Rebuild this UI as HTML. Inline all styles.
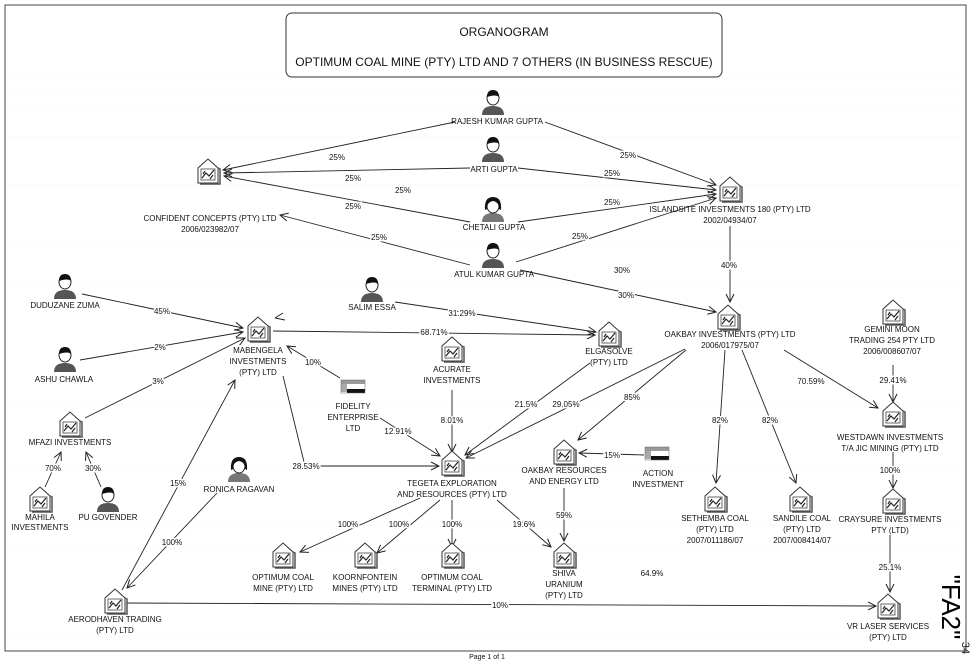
<!DOCTYPE html>
<html><head><meta charset="utf-8"><style>
html,body{margin:0;padding:0;background:#fff;}
svg{display:block;}
text{font-family:"Liberation Sans",sans-serif;font-size:8px;fill:#111;text-anchor:middle;}
.pl{paint-order:stroke;stroke:#fff;stroke-width:3px;}
</style></head><body>
<svg width="974" height="662" viewBox="0 0 974 662" xmlns="http://www.w3.org/2000/svg">
<defs>
<marker id="a" markerWidth="10" markerHeight="10" refX="9" refY="5" orient="auto" markerUnits="userSpaceOnUse">
<path d="M1,1 L9,5 L1,9" fill="none" stroke="#222" stroke-width="1"/></marker>
<g id="h"><path d="M-10,-4 L0,-13 L10,-4 L10,11 L-10,11 Z" fill="#fff" stroke="#333" stroke-width="1"/><path d="M10,-4 L12,-3 L12,12 L-8,12" fill="none" stroke="#555" stroke-width="1.5"/><rect x="-7" y="-3" width="14" height="11" fill="#fff" stroke="#444" stroke-width="0.8"/><path d="M-6,6 L-2,1 L1,4 L6,-2 M-5,2 L-3,-1 M2,7 L5,3" stroke="#222" stroke-width="1.2" fill="none"/></g>
<g id="p"><path d="M-11,12 Q-11,3 0,3 Q11,3 11,12 Z" fill="#555"/><ellipse cx="0" cy="-5" rx="6" ry="7" fill="#fff" stroke="#222"/><path d="M-6,-6 Q-6,-13 0,-13 Q6,-13 6,-6 Q3,-9 -6,-6Z" fill="#111"/></g>
<g id="pf"><path d="M-11,12 Q-11,3 0,3 Q11,3 11,12 Z" fill="#777"/><ellipse cx="0" cy="-4" rx="6" ry="7" fill="#fff" stroke="#222"/><path d="M-8,0 Q-9,-13 0,-13 Q9,-13 8,0 L6,-1 Q6,-8 0,-9 Q-6,-8 -6,-1Z" fill="#111"/></g>
<g id="f"><rect x="-12" y="-8" width="24" height="4" fill="#999"/><rect x="-12" y="-4" width="6" height="8" fill="#aaa"/><rect x="-6" y="-2" width="18" height="2" fill="#fff"/><rect x="-6" y="1" width="18" height="4" fill="#111"/><rect x="-12" y="-8" width="24" height="13" fill="none" stroke="#666" stroke-width="0.5"/></g>
</defs>
<rect x="5" y="5" width="961" height="646" fill="none" stroke="#444" stroke-width="1"/>
<g stroke="#ddd" stroke-dasharray="1,3" stroke-width="0.6">
<line x1="6" y1="77" x2="965" y2="77"/><line x1="6" y1="91" x2="965" y2="91"/><line x1="6" y1="107" x2="965" y2="107"/><line x1="6" y1="137" x2="965" y2="137"/><line x1="6" y1="185" x2="965" y2="185"/><line x1="6" y1="245" x2="965" y2="245"/><line x1="6" y1="283" x2="965" y2="283"/><line x1="6" y1="405" x2="965" y2="405"/><line x1="6" y1="467" x2="965" y2="467"/><line x1="6" y1="525" x2="965" y2="525"/><line x1="6" y1="548" x2="965" y2="548"/><line x1="6" y1="637" x2="965" y2="637"/>
</g>
<rect x="286" y="13" width="436" height="64" rx="6" fill="#fff" stroke="#333"/>
<text x="504" y="36" style="font-size:12px">ORGANOGRAM</text>
<text x="504" y="66" style="font-size:12px">OPTIMUM COAL MINE (PTY) LTD AND 7 OTHERS (IN BUSINESS RESCUE)</text>

<g stroke="#222" stroke-width="0.9" fill="none" marker-end="url(#a)">
<line x1="455" y1="122" x2="223" y2="170"/>
<line x1="545" y1="122" x2="716" y2="185"/>
<line x1="470" y1="168" x2="224" y2="173"/>
<line x1="518" y1="168" x2="716" y2="190"/>
<line x1="470" y1="222" x2="224" y2="176"/>
<line x1="518" y1="222" x2="716" y2="194"/>
<line x1="470" y1="265" x2="280" y2="215"/>
<line x1="516" y1="262" x2="716" y2="198"/>
<line x1="520" y1="270" x2="716" y2="312"/>
<line x1="730" y1="226" x2="730" y2="302"/>
<line x1="82" y1="294" x2="243" y2="328"/>
<line x1="80" y1="360" x2="243" y2="332"/>
<line x1="85" y1="418" x2="245" y2="338"/>
<line x1="273" y1="331" x2="595" y2="335"/>
<line x1="395" y1="302" x2="596" y2="332"/>
<line x1="340" y1="378" x2="287" y2="346"/>
<polyline points="283,376 305,466 439,466"/>
<line x1="380" y1="418" x2="440" y2="456"/>
<line x1="452" y1="390" x2="452" y2="452"/>
<line x1="590" y1="363" x2="465" y2="455"/>
<line x1="685" y1="349" x2="466" y2="458"/>
<line x1="686" y1="350" x2="578" y2="440"/>
<line x1="644" y1="455" x2="579" y2="453"/>
<line x1="725" y1="350" x2="716" y2="483"/>
<line x1="742" y1="350" x2="796" y2="483"/>
<line x1="784" y1="350" x2="878" y2="408"/>
<line x1="893" y1="365" x2="893" y2="402"/>
<line x1="45" y1="487" x2="61" y2="452"/>
<line x1="101" y1="487" x2="86" y2="452"/>
<line x1="893" y1="452" x2="893" y2="488"/>
<line x1="890" y1="535" x2="890" y2="592"/>
<line x1="420" y1="498" x2="300" y2="552"/>
<line x1="440" y1="500" x2="377" y2="553"/>
<line x1="452" y1="500" x2="452" y2="547"/>
<line x1="497" y1="500" x2="551" y2="547"/>
<line x1="564" y1="488" x2="564" y2="541"/>
<line x1="122" y1="590" x2="235" y2="380"/>
<line x1="217" y1="493" x2="127" y2="588"/>
<line x1="127" y1="603" x2="876" y2="606"/>
</g>
<g stroke="#222" stroke-width="0.9" fill="none"><path d="M275,318 L283,313 M275,318 L285,320"/></g>

<g class="pl">
<text x="337" y="160">25%</text><text x="628" y="158">25%</text>
<text x="353" y="181">25%</text><text x="612" y="176">25%</text>
<text x="353" y="209">25%</text><text x="612" y="205">25%</text>
<text x="403" y="193">25%</text>
<text x="379" y="240">25%</text><text x="580" y="239">25%</text>
<text x="626" y="298">30%</text><text x="622" y="273">30%</text>
<text x="729" y="268">40%</text>
<text x="162" y="314">45%</text><text x="160" y="350">2%</text><text x="158" y="384">3%</text>
<text x="434" y="335">68.71%</text><text x="462" y="316">31.29%</text>
<text x="313" y="365">10%</text><text x="306" y="469">28.53%</text>
<text x="398" y="434">12.91%</text><text x="452" y="423">8.01%</text>
<text x="526" y="407">21.5%</text><text x="566" y="407">29.05%</text>
<text x="632" y="400">85%</text><text x="612" y="458">15%</text>
<text x="720" y="423">82%</text><text x="770" y="423">82%</text>
<text x="811" y="384">70.59%</text><text x="893" y="383">29.41%</text>
<text x="53" y="471">70%</text><text x="93" y="471">30%</text>
<text x="890" y="473">100%</text><text x="890" y="570">25.1%</text>
<text x="348" y="527">100%</text><text x="399" y="527">100%</text><text x="452" y="527">100%</text><text x="524" y="527">19.6%</text>
<text x="564" y="518">59%</text><text x="652" y="576">64.9%</text>
<text x="178" y="486">15%</text><text x="172" y="545">100%</text>
<text x="500" y="608">10%</text>
</g>

<use href="#p" x="493" y="103"/><text x="497" y="124">RAJESH KUMAR GUPTA</text>
<use href="#p" x="493" y="150"/><text x="494" y="172">ARTI GUPTA</text>
<use href="#pf" x="493" y="210"/><text x="494" y="230">CHETALI GUPTA</text>
<use href="#p" x="493" y="256"/><text x="494" y="277">ATUL KUMAR GUPTA</text>
<use href="#h" x="208" y="172"/><text x="210" y="221">CONFIDENT CONCEPTS (PTY) LTD</text><text x="210" y="232">2006/023982/07</text>
<use href="#h" x="730" y="190"/><text x="730" y="212">ISLANDSITE INVESTMENTS 180 (PTY) LTD</text><text x="730" y="223">2002/04934/07</text>
<use href="#h" x="728" y="318"/><text x="730" y="337">OAKBAY INVESTMENTS (PTY) LTD</text><text x="730" y="348">2006/017975/07</text>
<use href="#h" x="893" y="313"/><text x="892" y="332">GEMINI MOON</text><text x="892" y="343">TRADING 254 PTY LTD</text><text x="892" y="354">2006/008607/07</text>
<use href="#p" x="65" y="287"/><text x="65" y="308">DUDUZANE ZUMA</text>
<use href="#p" x="65" y="360"/><text x="64" y="382">ASHU CHAWLA</text>
<use href="#h" x="258" y="330"/><text x="258" y="353">MABENGELA</text><text x="258" y="364">INVESTMENTS</text><text x="258" y="375">(PTY) LTD</text>
<use href="#p" x="372" y="290"/><text x="372" y="310">SALIM ESSA</text>
<use href="#h" x="609" y="335"/><text x="609" y="354">ELGASOLVE</text><text x="609" y="365">(PTY) LTD</text>
<use href="#h" x="452" y="350"/><text x="452" y="372">ACURATE</text><text x="452" y="383">INVESTMENTS</text>
<use href="#f" x="353" y="388"/><text x="353" y="409">FIDELITY</text><text x="353" y="420">ENTERPRISE</text><text x="353" y="431">LTD</text>
<use href="#h" x="70" y="425"/><text x="70" y="445">MFAZI INVESTMENTS</text>
<use href="#h" x="40" y="500"/><text x="40" y="520">MAHILA</text><text x="40" y="530">INVESTMENTS</text>
<use href="#p" x="108" y="500"/><text x="108" y="520">PU GOVENDER</text>
<use href="#pf" x="239" y="470"/><text x="239" y="492">RONICA RAGAVAN</text>
<use href="#h" x="452" y="464"/><text x="452" y="486">TEGETA EXPLORATION</text><text x="452" y="497">AND RESOURCES (PTY) LTD</text>
<use href="#h" x="564" y="453"/><text x="564" y="473">OAKBAY RESOURCES</text><text x="564" y="484">AND ENERGY LTD</text>
<use href="#f" x="657" y="455"/><text x="658" y="476">ACTION</text><text x="658" y="487">INVESTMENT</text>
<use href="#h" x="893" y="415"/><text x="890" y="440">WESTDAWN INVESTMENTS</text><text x="890" y="451">T/A JIC MINING (PTY) LTD</text>
<use href="#h" x="893" y="502"/><text x="890" y="522">CRAYSURE INVESTMENTS</text><text x="890" y="533">PTY (LTD)</text>
<use href="#h" x="715" y="500"/><text x="715" y="521">SETHEMBA COAL</text><text x="715" y="532">(PTY) LTD</text><text x="715" y="543">2007/011186/07</text>
<use href="#h" x="800" y="500"/><text x="802" y="521">SANDILE COAL</text><text x="802" y="532">(PTY) LTD</text><text x="802" y="543">2007/008414/07</text>
<use href="#h" x="283" y="556"/><text x="283" y="580">OPTIMUM COAL</text><text x="283" y="591">MINE (PTY) LTD</text>
<use href="#h" x="365" y="556"/><text x="365" y="580">KOORNFONTEIN</text><text x="365" y="591">MINES (PTY) LTD</text>
<use href="#h" x="452" y="556"/><text x="452" y="580">OPTIMUM COAL</text><text x="452" y="591">TERMINAL (PTY) LTD</text>
<use href="#h" x="564" y="556"/><text x="564" y="576">SHIVA</text><text x="564" y="587">URANIUM</text><text x="564" y="598">(PTY) LTD</text>
<use href="#h" x="115" y="602"/><text x="115" y="622">AERODHAVEN TRADING</text><text x="115" y="633">(PTY) LTD</text>
<use href="#h" x="888" y="607"/><text x="888" y="629">VR LASER SERVICES</text><text x="888" y="640">(PTY) LTD</text>

<text transform="translate(942,607) rotate(90)" style="font-size:26px;fill:#000">"FA2"</text>
<text transform="translate(962,648) rotate(90)" style="font-size:11px">34</text>
<text x="487" y="659" style="font-size:7px">Page 1 of 1</text>
</svg>
</body></html>
